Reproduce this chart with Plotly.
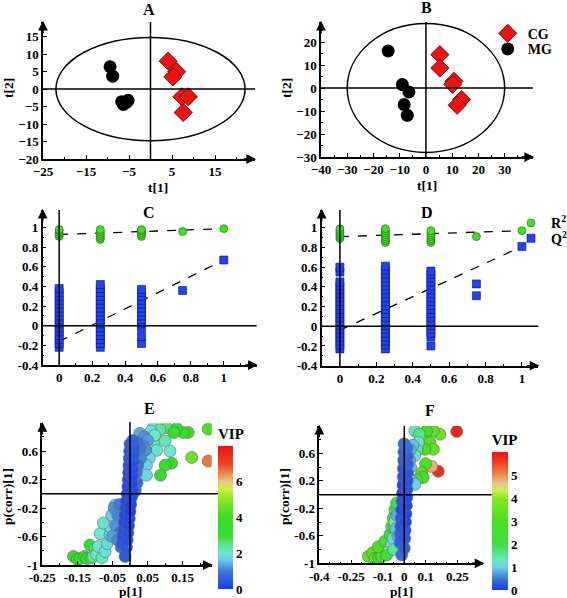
import plotly.graph_objects as go

W, H = 567, 598
FONT = "Liberation Serif"


def px(v):
    return v / W


def py(v):
    return 1 - v / H


# ---------------- Panel A (PCA scores) ----------------
A_cg_t1 = [4.1, 6.1, 5.2, 7.3, 8.8, 7.6]
A_cg_t2 = [8.0, 5.0, 3.5, -2.2, -2.2, -6.7]
A_mg_t1 = [-9.4, -8.8, -6.7, -5.2, -6.3, -5.6]
A_mg_t2 = [6.4, 3.7, -3.6, -3.2, -4.4, -3.8]
A_ellipse = [22.0, 14.8]  # T2 ellipse semi-axes
A_xticks = [-25, -15, -5, 5, 15]
A_yticks = [-20, -15, -10, -5, 0, 5, 10, 15]

# ---------------- Panel B (OPLS-DA scores) ----------------
B_cg_t1 = [5.3, 5.3, 10.7, 10.2, 13.6, 11.9]
B_cg_t2 = [14.5, 8.7, 2.9, 1.6, -5.0, -7.5]
B_mg_t1 = [-14.4, -9.0, -6.5, -8.3, -7.1]
B_mg_t2 = [16.1, 1.5, -1.7, -7.2, -11.9]
B_ellipse = [30.0, 28.0]
B_xticks = [-40, -30, -20, -10, 0, 10, 20, 30]
B_yticks = [-30, -20, -10, 0, 10, 20]

# ---------------- Panel C (permutation test) ----------------
C_r2 = {
    0: [0.91, 0.93, 0.95, 0.97, 0.98],
    0.25: [0.88, 0.90, 0.92, 0.94, 0.96, 0.98],
    0.5: [0.91, 0.93, 0.95, 0.97, 0.98],
    0.75: [0.96],
    1: [0.99],
}
C_q2 = {
    0: [-0.22, -0.18, -0.14, -0.10, -0.06, -0.02, 0.02, 0.06, 0.10, 0.14,
        0.18, 0.22, 0.26, 0.30, 0.34, 0.38],
    0.25: [-0.22, -0.18, -0.14, -0.10, -0.06, -0.02, 0.02, 0.06, 0.10, 0.14,
           0.18, 0.22, 0.26, 0.30, 0.34, 0.38, 0.42],
    0.5: [-0.18, -0.11, -0.02, 0.02, 0.06, 0.10, 0.14, 0.18, 0.22, 0.26,
          0.30, 0.34, 0.37],
    0.75: [0.36],
    1: [0.67],
}
C_r2_intercept = 0.93
C_q2_intercept = -0.16

# ---------------- Panel D (permutation test) ----------------
D_r2 = {
    0: [0.89, 0.91, 0.93, 0.95, 0.97, 0.99],
    0.25: [0.85, 0.87, 0.89, 0.91, 0.93, 0.95, 0.97, 0.99],
    0.5: [0.85, 0.87, 0.89, 0.91, 0.93, 0.95, 0.97],
    0.75: [0.91],
    1: [0.97],
}
D_q2 = {
    0: [-0.23, -0.19, -0.15, -0.11, -0.07, -0.03, 0.01, 0.05, 0.09, 0.13,
        0.17, 0.21, 0.25, 0.29, 0.33, 0.37, 0.41, 0.45, 0.55, 0.60],
    0.25: [-0.23, -0.19, -0.15, -0.11, -0.07, -0.03, 0.01, 0.05, 0.09, 0.13,
           0.17, 0.21, 0.25, 0.29, 0.33, 0.37, 0.41, 0.45, 0.49, 0.53,
           0.57, 0.61],
    0.5: [-0.20, -0.11, -0.07, -0.03, 0.01, 0.05, 0.09, 0.13, 0.17, 0.21,
          0.25, 0.29, 0.33, 0.37, 0.41, 0.45, 0.49, 0.53, 0.56],
    0.75: [0.43, 0.31],
    1: [0.81],
}
D_r2_intercept = 0.91
D_q2_intercept = -0.04

CD_xticks = [0, 0.2, 0.4, 0.6, 0.8, 1]
CD_xticktext = ["0", "0.2", "0.4", "0.6", "0.8", "1"]
CD_yticks = [-0.4, -0.2, 0, 0.2, 0.4, 0.6, 0.8, 1]
CD_yticktext = ["-0.4", "-0.2", "0", "0.2", "0.4", "0.6", "0.8", "1"]

# ---------------- Panel E (S-plot) ----------------
E_p1 = [0.223, 0.166, 0.152, 0.133, 0.103, 0.176, 0.223, 0.119, 0.100, 0.087, 0.125,
        -0.161, -0.150, -0.142, -0.130, -0.123, -0.110, -0.114, -0.100, 0.012,
        0.066, 0.085, 0.060, 0.071, 0.100, 0.114, 0.076, 0.070, 0.055, 0.047, 0.047,
        -0.105, -0.095, -0.080, -0.090, -0.071, -0.065, -0.085, -0.057, -0.060, -0.076, -0.052, -0.043,
        0.028, 0.040, 0.050, 0.035, 0.045, 0.028, 0.020, 0.025, 0.030, 0.022, 0.018, 0.020, 0.015,
        -0.045, -0.030, -0.035, -0.040, -0.030, -0.050, -0.035, -0.025,
        -0.014, -0.022, -0.020, -0.018, -0.016, -0.014, -0.012, -0.010, -0.008, -0.006, -0.005,
        -0.004, -0.003, -0.002, -0.001, 0.000,
        -0.010, -0.008, -0.006, -0.004, -0.002, 0.000, 0.002, 0.004, 0.005, 0.006, 0.007,
        0.008, 0.009, 0.010, 0.011, 0.008]
E_pcorr = [0.91, 0.86, 0.86, 0.92, 0.93, 0.51, 0.46, 0.43, 0.40, 0.26, 0.86,
           -0.88, -0.92, -0.91, -0.88, -0.91, -0.90, -0.72, -0.78, 0.02,
           0.92, 0.90, 0.88, 0.75, 0.74, 0.60, 0.61, 0.82, 0.50, 0.40, 0.26,
           -0.88, -0.85, -0.90, -0.74, -0.81, -0.70, -0.56, -0.58, -0.45, -0.41, -0.30, -0.16,
           0.85, 0.80, 0.75, 0.70, 0.62, 0.65, 0.72, 0.60, 0.50, 0.40, 0.30, 0.15, 0.05,
           -0.20, -0.15, -0.30, -0.45, -0.55, -0.60, -0.65, -0.75,
           -0.88, -0.70, -0.60, -0.50, -0.40, -0.30, -0.20, -0.10, 0.00, 0.10, 0.20,
           0.30, 0.40, 0.50, 0.60, 0.70,
           -0.75, -0.65, -0.55, -0.45, -0.35, -0.25, -0.15, -0.05, 0.05, 0.15, 0.25,
           0.35, 0.45, 0.55, 0.65, 0.75]
E_vip = [4.2, 3.8, 3.6, 3.3, 2.6, 4.6, 6.6, 3.4, 3.2, 3.3, 3.4,
         3.8, 3.6, 3.5, 3.2, 3.0, 2.8, 3.1, 2.6, 3.0,
         2.0, 2.3, 1.9, 2.1, 2.2, 2.0, 1.9, 2.0, 1.8, 1.7, 1.8,
         2.3, 2.1, 2.2, 2.0, 1.9, 1.8, 2.0, 1.7, 1.8, 1.9, 1.7, 1.6,
         1.4, 1.2, 1.3, 1.1, 1.2, 1.0, 0.9, 1.0, 1.1, 0.9, 0.9, 0.8, 0.8,
         1.2, 1.0, 1.1, 1.2, 1.0, 1.3, 1.1, 0.9,
         0.5, 0.4, 0.3, 0.4, 0.3, 0.2, 0.3, 0.2, 0.1, 0.2, 0.2,
         0.3, 0.3, 0.4, 0.4, 0.5,
         0.4, 0.3, 0.3, 0.2, 0.2, 0.1, 0.1, 0.2, 0.1, 0.2, 0.2,
         0.3, 0.3, 0.4, 0.5, 0.6]
E_xticks = [-0.25, -0.15, -0.05, 0.05, 0.15]
E_xticktext = ["-0.25", "-0.15", "-0.05", "0.05", "0.15"]
EF_yticks = [-1, -0.6, -0.2, 0.2, 0.6]
EF_yticktext = ["-1", "-0.6", "-0.2", "0.2", "0.6"]
E_cbar_ticks = [0, 2, 4, 6]

# ---------------- Panel F (S-plot) ----------------
F_p1 = [0.247, 0.160, 0.129,
        0.168, 0.137, 0.105, 0.082, 0.121, 0.137, 0.097, 0.100, 0.082, 0.089, 0.058,
        -0.169, -0.150, -0.138, -0.120, -0.106, -0.083, -0.122, -0.091, -0.067, -0.059, -0.052, -0.044, -0.036,
        0.050, 0.070, 0.066, 0.060, 0.050, -0.059, -0.052, -0.045, -0.050,
        0.040, 0.028, 0.025, 0.030, 0.035, 0.050, -0.035, -0.040, -0.030,
        -0.012, -0.020, -0.018, -0.016, -0.014, -0.012, -0.010, -0.008, -0.006, -0.005, -0.004,
        -0.003, -0.002, -0.001,
        0.000, 0.002, 0.004, 0.006, 0.008, 0.010, 0.012, 0.013, 0.014, 0.015, 0.015, 0.014, 0.012]
F_pcorr = [0.92, 0.34, 0.41,
           0.88, 0.93, 0.93, 0.81, 0.76, 0.66, 0.66, 0.45, 0.32, 0.25, 0.22,
           -0.90, -0.85, -0.93, -0.92, -0.90, -0.88, -0.76, -0.68, -0.58, -0.46, -0.34, -0.22, -0.12,
           0.93, 0.88, 0.76, 0.65, 0.57, -0.73, -0.64, -0.40, -0.80,
           0.72, 0.65, 0.50, 0.40, 0.20, 0.15, -0.30, -0.50, -0.60,
           -0.88, -0.70, -0.58, -0.46, -0.34, -0.22, -0.10, 0.02, 0.14, 0.26, 0.38,
           0.50, 0.62, 0.74,
           -0.78, -0.64, -0.52, -0.40, -0.28, -0.16, -0.04, 0.08, 0.20, 0.32, 0.44, 0.56, 0.68]
F_vip = [5.8, 5.7, 4.8,
         3.6, 3.3, 3.0, 2.4, 3.2, 3.4, 3.0, 3.1, 3.2, 3.0, 2.8,
         3.4, 3.2, 3.3, 3.0, 2.8, 2.6, 3.1, 2.7, 2.4, 2.2, 2.1, 2.0, 1.9,
         1.4, 1.6, 1.3, 1.5, 1.2, 1.3, 1.2, 1.4, 1.5,
         0.9, 0.8, 0.8, 0.9, 0.9, 1.0, 0.8, 0.9, 0.8,
         0.4, 0.3, 0.3, 0.2, 0.2, 0.1, 0.2, 0.1, 0.1, 0.2, 0.2,
         0.3, 0.3, 0.4,
         0.3, 0.2, 0.2, 0.1, 0.1, 0.1, 0.1, 0.2, 0.2, 0.2, 0.3, 0.3, 0.4]
F_xticks = [-0.4, -0.25, -0.1, 0, 0.1, 0.25]
F_xticktext = ["-0.4", "-0.25", "-0.1", "0", "0.1", "0.25"]
F_cbar_ticks = [0, 1, 2, 3, 4, 5]

E_scale = [
    [0.0, "#1a3cf0"], [0.125, "#3a7ad8"], [0.2, "#6cc8e8"], [0.25, "#6ae8d0"],
    [0.33, "#55e070"], [0.375, "#33dd33"], [0.5, "#3ade22"], [0.625, "#88e822"],
    [0.7, "#d0f040"], [0.75, "#e8c888"], [0.8, "#e89050"], [0.875, "#ee4422"],
    [1.0, "#ee1111"],
]
F_scale = [
    [0.0, "#1a3cf0"], [0.083, "#3a7ad8"], [0.167, "#70d0e8"], [0.22, "#66e8c0"],
    [0.33, "#40dd44"], [0.5, "#44e022"], [0.667, "#88e822"], [0.72, "#c8f050"],
    [0.77, "#e8c890"], [0.83, "#e89050"], [0.92, "#ee4422"], [1.0, "#ee1111"],
]


def fnt(size):
    return dict(family=FONT, color="black", weight="bold", size=size)


fig = go.Figure()

# ---- A ----
fig.add_trace(go.Scatter(x=A_cg_t1, y=A_cg_t2, mode="markers", showlegend=False,
                         marker=dict(symbol="diamond", size=14, color="#ee1111",
                                     line=dict(color="#550000", width=0.8)),
                         xaxis="x", yaxis="y"))
fig.add_trace(go.Scatter(x=A_mg_t1, y=A_mg_t2, mode="markers", showlegend=False,
                         marker=dict(symbol="circle", size=13, color="black"),
                         xaxis="x", yaxis="y"))
# ---- B ----
fig.add_trace(go.Scatter(x=B_cg_t1, y=B_cg_t2, mode="markers", name="CG", legend="legend",
                         marker=dict(symbol="diamond", size=14, color="#ee1111",
                                     line=dict(color="#550000", width=0.8)),
                         xaxis="x2", yaxis="y2"))
fig.add_trace(go.Scatter(x=B_mg_t1, y=B_mg_t2, mode="markers", name="MG", legend="legend3",
                         marker=dict(symbol="circle", size=13, color="black"),
                         xaxis="x2", yaxis="y2"))


def perm_traces(r2, q2, r2_int, q2_int, xa, ya, legends):
    rx, ry, qx, qy = [], [], [], []
    for k, vals in r2.items():
        rx += [k] * len(vals)
        ry += vals
    for k, vals in q2.items():
        qx += [k] * len(vals)
        qy += vals
    fig.add_trace(go.Scatter(x=[0, 1], y=[r2_int, r2[1][0]], mode="lines", showlegend=False,
                             line=dict(color="black", width=1.3, dash="dash"),
                             xaxis=xa, yaxis=ya))
    fig.add_trace(go.Scatter(x=[0, 1], y=[q2_int, q2[1][0]], mode="lines", showlegend=False,
                             line=dict(color="black", width=1.3, dash="dash"),
                             xaxis=xa, yaxis=ya))
    fig.add_trace(go.Scatter(x=qx, y=qy, mode="markers", name="Q<sup>2</sup>",
                             showlegend=legends is not None,
                             legend=legends[1] if legends else "legend",
                             marker=dict(symbol="square", size=8, color="#2244ee",
                                         line=dict(color="#001070", width=0.6)),
                             xaxis=xa, yaxis=ya))
    fig.add_trace(go.Scatter(x=rx, y=ry, mode="markers", name="R<sup>2</sup>",
                             showlegend=legends is not None,
                             legend=legends[0] if legends else "legend",
                             marker=dict(symbol="circle", size=8, color="#44dd22",
                                         line=dict(color="#226611", width=0.6)),
                             xaxis=xa, yaxis=ya))


perm_traces(C_r2, C_q2, C_r2_intercept, C_q2_intercept, "x3", "y3", None)
perm_traces(D_r2, D_q2, D_r2_intercept, D_q2_intercept, "x4", "y4", ("legend2", "legend4"))

# ---- E, F ----
fig.add_trace(go.Scatter(x=E_p1, y=E_pcorr, mode="markers", showlegend=False,
                         marker=dict(size=12, color=E_vip, coloraxis="coloraxis",
                                     line=dict(color="#666666", width=0.6)),
                         xaxis="x5", yaxis="y5"))
fig.add_trace(go.Scatter(x=F_p1, y=F_pcorr, mode="markers", showlegend=False,
                         marker=dict(size=12, color=F_vip, coloraxis="coloraxis2",
                                     line=dict(color="#666666", width=0.6)),
                         xaxis="x6", yaxis="y6"))


def ax(rng, dom, anchor, tickvals, ticktext=None, minor_dtick=None):
    d = dict(range=rng, domain=dom, anchor=anchor, showline=True, linecolor="black",
             linewidth=1.5, ticks="inside", ticklen=4, tickwidth=1, tickcolor="black",
             showgrid=False, zeroline=False, tickvals=tickvals, tickfont=fnt(13),
             fixedrange=True, automargin=False)
    if ticktext is not None:
        d["ticktext"] = ticktext
    if minor_dtick is not None:
        d["minor"] = dict(ticks="inside", ticklen=2, tickcolor="black", dtick=minor_dtick,
                          tick0=0, showgrid=False)
    return d


panels = {
    "A": ((43, 255), (22, 159)),
    "B": ((321, 533), (22, 157)),
    "C": ((42.7, 256.7), (210, 365)),
    "D": ((321.7, 538.3), (210, 365.7)),
    "E": ((42.3, 211.7), (423.3, 565)),
    "F": ((319.3, 483.3), (426, 563.3)),
}


def dom(p):
    (x0, x1), (y0, y1) = panels[p]
    return [px(x0), px(x1)], [py(y1), py(y0)]


xa, ya = dom("A")
xb, yb = dom("B")
xc, yc = dom("C")
xd, yd = dom("D")
xe, ye = dom("E")
xf, yf = dom("F")


def legend_at(sym_x, sym_y):
    # place a one-entry legend so its symbol centre lands at (sym_x, sym_y) pixels
    return dict(x=px(sym_x - 19), y=py(sym_y - 15), xanchor="left", yanchor="top",
                xref="container", yref="container", font=fnt(14),
                bgcolor="rgba(0,0,0,0)", tracegroupgap=0)


layout = dict(
    width=W, height=H, margin=dict(l=0, r=0, t=0, b=0, autoexpand=False),
    paper_bgcolor="white", plot_bgcolor="white",
    font=fnt(13),
    xaxis=ax([-25, 24.3], xa, "y", A_xticks, minor_dtick=5),
    yaxis=ax([-20, 19.2], ya, "x", A_yticks),
    xaxis2=ax([-40, 40.8], xb, "y2", B_xticks, minor_dtick=5),
    yaxis2=ax([-30, 28.7], yb, "x2", B_yticks, minor_dtick=5),
    xaxis3=ax([-0.1, 1.2], xc, "y3", CD_xticks, CD_xticktext, minor_dtick=0.1),
    yaxis3=ax([-0.4, 1.18], yc, "x3", CD_yticks, CD_yticktext, minor_dtick=0.1),
    xaxis4=ax([-0.1, 1.09], xd, "y4", CD_xticks, CD_xticktext, minor_dtick=0.1),
    yaxis4=ax([-0.4, 1.18], yd, "x4", CD_yticks, CD_yticktext, minor_dtick=0.1),
    xaxis5=ax([-0.25, 0.233], xe, "y5", E_xticks, E_xticktext, minor_dtick=0.05),
    yaxis5=ax([-1, 0.99], ye, "x5", EF_yticks, EF_yticktext, minor_dtick=0.2),
    xaxis6=ax([-0.4, 0.372], xf, "y6", F_xticks, F_xticktext, minor_dtick=0.05),
    yaxis6=ax([-1, 1.0], yf, "x6", EF_yticks, EF_yticktext, minor_dtick=0.2),
    coloraxis=dict(cmin=0, cmax=8, colorscale=E_scale,
                   colorbar=dict(x=px(218), xanchor="left", y=py(589), yanchor="bottom",
                                 xref="container", yref="container",
                                 len=(589 - 425) / H, lenmode="fraction",
                                 thickness=15, thicknessmode="pixels", outlinewidth=0,
                                 xpad=0, ypad=0, tickvals=E_cbar_ticks, ticks="",
                                 tickfont=fnt(13),
                                 title=dict(text="VIP", side="top", font=fnt(15)))),
    coloraxis2=dict(cmin=0, cmax=6, colorscale=F_scale,
                    colorbar=dict(x=px(491.7), xanchor="left", y=py(590), yanchor="bottom",
                                  xref="container", yref="container",
                                  len=(590 - 431) / H, lenmode="fraction",
                                  thickness=16, thicknessmode="pixels", outlinewidth=0,
                                  xpad=0, ypad=0, tickvals=F_cbar_ticks, ticks="",
                                  tickfont=fnt(13),
                                  title=dict(text="VIP", side="top", font=fnt(15)))),
    legend=legend_at(506.7, 32.7),
    legend3=legend_at(506.7, 48.3),
    legend2=legend_at(530, 222.3),
    legend4=legend_at(530, 237.7),
)
fig.update_layout(**layout)

shapes = []
shapes.append(dict(type="circle", xref="x", yref="y", x0=-A_ellipse[0], x1=A_ellipse[0],
                   y0=-A_ellipse[1], y1=A_ellipse[1], line=dict(color="black", width=1.5)))
shapes.append(dict(type="circle", xref="x2", yref="y2", x0=-B_ellipse[0], x1=B_ellipse[0],
                   y0=-B_ellipse[1], y1=B_ellipse[1], line=dict(color="black", width=1.5)))
for xs, ys, xext, yext in [("x", "y", 1.0, 1.0), ("x2", "y2", 1.0, 1.0), ("x3", "y3", 1.0, 1.0),
                           ("x4", "y4", 1.0, 1.0), ("x5", "y5", 1.037, 1.01),
                           ("x6", "y6", 1.051, 1.0)]:
    shapes.append(dict(type="line", xref=xs, yref=ys + " domain", x0=0, x1=0, y0=0, y1=yext,
                       line=dict(color="black", width=1.5)))
    shapes.append(dict(type="line", xref=xs + " domain", yref=ys, x0=0, x1=xext, y0=0, y1=0,
                       line=dict(color="black", width=1.5)))
fig.update_layout(shapes=shapes)

ann = []
for t, (x, y) in {"A": (149, 10), "B": (426.7, 8), "C": (149, 212), "D": (426.7, 212),
                  "E": (149, 408), "F": (430, 410)}.items():
    ann.append(dict(text=t, x=px(x), y=py(y), xref="paper", yref="paper", showarrow=False,
                    xanchor="center", yanchor="middle", font=fnt(16)))
for t, (x, y), ang in [("t[1]", (158, 187), 0), ("t[2]", (8, 88), -90),
                       ("t[1]", (426.7, 185), 0), ("t[2]", (286, 88), -90),
                       ("p[1]", (130, 591), 0), ("p(corr)[1]", (7, 497), -90),
                       ("p[1]", (401.7, 591), 0), ("p(corr)[1]", (284, 497), -90)]:
    ann.append(dict(text=t, x=px(x), y=py(y), xref="paper", yref="paper", showarrow=False,
                    xanchor="center", yanchor="middle", textangle=ang, font=fnt(13.5)))
for p in panels:
    (x0, x1), (y0, y1) = panels[p]
    ann.append(dict(text="", x=px(x0), y=py(y0) + 0.002, xref="paper", yref="paper",
                    showarrow=True, ax=0, ay=14, arrowhead=2, arrowsize=1.3, arrowwidth=1.5,
                    arrowcolor="black"))
    ann.append(dict(text="", x=px(x1) + 0.002, y=py(y1), xref="paper", yref="paper",
                    showarrow=True, ax=-14, ay=0, arrowhead=2, arrowsize=1.3, arrowwidth=1.5,
                    arrowcolor="black"))
fig.update_layout(annotations=ann)

fig.write_html("out.html", config={"displayModeBar": False},
               post_script="document.body.style.margin='0px';"
                           "document.body.style.overflow='hidden';")
